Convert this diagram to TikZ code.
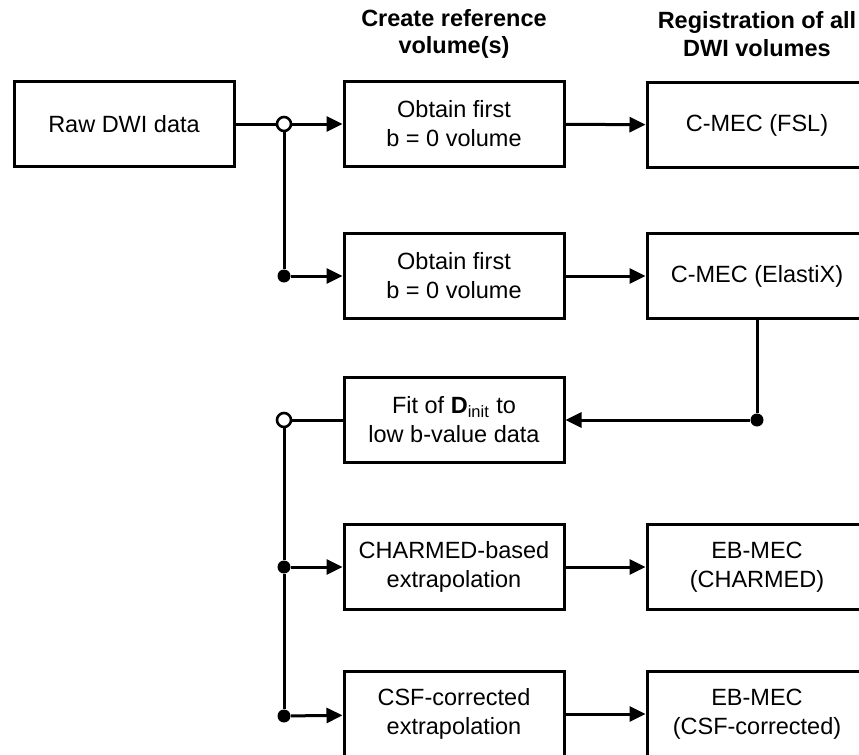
\documentclass[tikz,border=0pt]{standalone}
\usepackage{fontspec}
\setmainfont{Liberation Sans}
\usetikzlibrary{arrows.meta}
\tikzset{
  stagebox/.style={draw, line width=1.5pt, minimum width=110pt, minimum height=42.5pt,
    align=center, inner sep=2pt, font=\fontsize{11.75}{14.5}\selectfont},
  headline/.style={align=center, font=\fontsize{11.75}{13.8}\selectfont\bfseries},
  opendot/.style={circle, draw, fill=white, line width=1.3pt, inner sep=0, minimum size=7pt},
  fulldot/.style={circle, fill=black, inner sep=0, minimum size=6.5pt},
  link/.style={line width=1.5pt},
  flow/.style={link, -{Triangle[length=8pt,width=7.5pt]}}
}
\begin{document}
\begin{tikzpicture}[x=0.5pt,y=0.5pt]
\useasboundingbox (0,0) rectangle (859,-755);
\clip (0,0) rectangle (859,-755);
\node[headline] (hdref) at (454,-34) {Create reference\\volume(s)};
\node[headline] (hdreg) at (757,-34) {Registration of all\\DWI volumes};
\node[stagebox] (raw) at (124,-124) {Raw DWI data};
\node[stagebox] (first1) at (454,-124) {Obtain first\\b = 0 volume};
\node[stagebox] (first2) at (454,-276) {Obtain first\\b = 0 volume};
\node[stagebox] (fsl) at (757,-125) {C-MEC (FSL)};
\node[stagebox] (elastix) at (757,-276) {C-MEC (ElastiX)};
\node[stagebox] (fit) at (454,-420) {Fit of \textbf{D}\textsubscript{init} to\\low b-value data};
\node[stagebox] (charmed) at (454,-567) {CHARMED-based\\extrapolation};
\node[stagebox] (csf) at (454,-714) {CSF-corrected\\extrapolation};
\node[stagebox] (ebcharmed) at (757,-567) {EB-MEC\\(CHARMED)};
\node[stagebox] (ebcsf) at (757,-714) {EB-MEC\\(CSF-corrected)};
\node[opendot] (split1) at (284,-124) {};
\node[fulldot] (split2) at (284,-276) {};
\node[fulldot] (back) at (757,-420) {};
\node[opendot] (split3) at (284,-420) {};
\node[fulldot] (split4) at (284,-567) {};
\node[fulldot] (split5) at (284,-716) {};
\draw[link] (raw) -- (split1);
\draw[flow] (split1) -- (first1);
\draw[link] (split1) -- (split2);
\draw[flow] (split2) -- (first2);
\draw[flow] (first1) -- (fsl);
\draw[flow] (first2) -- (elastix);
\draw[link] (elastix) -- (back);
\draw[flow] (back) -- (fit);
\draw[link] (fit) -- (split3);
\draw[link] (split3) -- (split4) -- (split5);
\draw[flow] (split4) -- (charmed);
\draw[flow] (split5) -- (csf);
\draw[flow] (charmed) -- (ebcharmed);
\draw[flow] (csf) -- (ebcsf);
\end{tikzpicture}
\end{document}
